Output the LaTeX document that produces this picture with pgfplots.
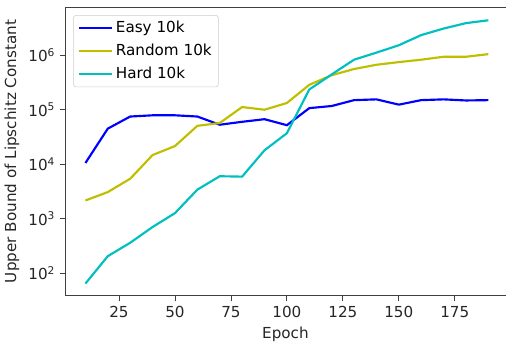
\documentclass[border=0pt]{standalone}
\usepackage{pgfplots}
\pgfplotsset{compat=1.18}
\usepackage{fontspec}
\setmainfont{DejaVu Sans}
\definecolor{mb}{rgb}{0,0,1}
\definecolor{my}{rgb}{0.75,0.75,0}
\definecolor{mc}{rgb}{0,0.75,0.75}
\begin{document}
\begin{tikzpicture}
\begin{axis}[
  scale only axis, width=327.75pt, height=215pt,
  ymode=log, log basis y=10,
  xmin=1, xmax=197.7, ymin=38, ymax=7.7e6,
  axis x line*=bottom, axis y line*=left,
  axis line style={black!75, line width=0.6pt},
  every tick/.style={black!75, line width=0.6pt},
  xtick={25,50,75,100,125,150,175},
  ytick={1e2,1e3,1e4,1e5,1e6},
  tick align=outside,
  major tick length=4pt, minor tick length=2.2pt,
  /pgf/number format/assume math mode=true,
  yticklabel={\pgfmathtruncatemacro\e{round(\tick)}10\textsuperscript{\e}},
  tick label style={font=\fontsize{11.3}{13}\selectfont, text=black!85},
  label style={font=\fontsize{11.3}{13}\selectfont, text=black!85},
  xlabel={Epoch}, ylabel={Upper Bound of Lipschitz Constant},
  legend style={at={(0.018,0.972)}, anchor=north west, draw=black!20, rounded corners=2pt,
    fill=white, fill opacity=0.8, text opacity=1, font=\fontsize{11.3}{13}\selectfont,
    row sep=3pt, inner xsep=3pt, inner ysep=2.5pt},
  legend cell align=left,
  legend image code/.code={\draw[#1] (0pt,0pt) -- (25pt,0pt);},
  extra description/.code={\draw[black!75, line width=0.6pt] (rel axis cs:0,1) -- (rel axis cs:1,1);},
]
\addplot[mb, line width=1.6pt] coordinates {
(10,1.05e4) (20,4.5e4) (30,7.5e4) (40,7.9e4) (50,7.9e4) (60,7.5e4) (70,5.3e4) (80,6.0e4) (90,6.7e4) (100,5.2e4)
(110,1.07e5) (120,1.17e5) (130,1.5e5) (140,1.55e5) (150,1.24e5) (160,1.5e5) (170,1.55e5) (180,1.48e5) (190,1.5e5)};
\addlegendentry{Easy 10k}
\addplot[my, line width=1.6pt] coordinates {
(10,2.15e3) (20,3.07e3) (30,5.4e3) (40,1.47e4) (50,2.15e4) (60,5.06e4) (70,5.7e4) (80,1.12e5) (90,1.0e5) (100,1.33e5)
(110,2.87e5) (120,4.3e5) (130,5.6e5) (140,6.7e5) (150,7.5e5) (160,8.3e5) (170,9.4e5) (180,9.4e5) (190,1.05e6)};
\addlegendentry{Random 10k}
\addplot[mc, line width=1.6pt] coordinates {
(10,64) (20,204) (30,360) (40,700) (50,1.26e3) (60,3.4e3) (70,6.0e3) (80,5.9e3) (90,1.8e4) (100,3.7e4)
(110,2.35e5) (120,4.45e5) (130,8.3e5) (140,1.12e6) (150,1.53e6) (160,2.35e6) (170,3.1e6) (180,3.9e6) (190,4.4e6)};
\addlegendentry{Hard 10k}
\end{axis}
\path (current axis.north) ++(0,5.25pt);
\end{tikzpicture}
\end{document}
